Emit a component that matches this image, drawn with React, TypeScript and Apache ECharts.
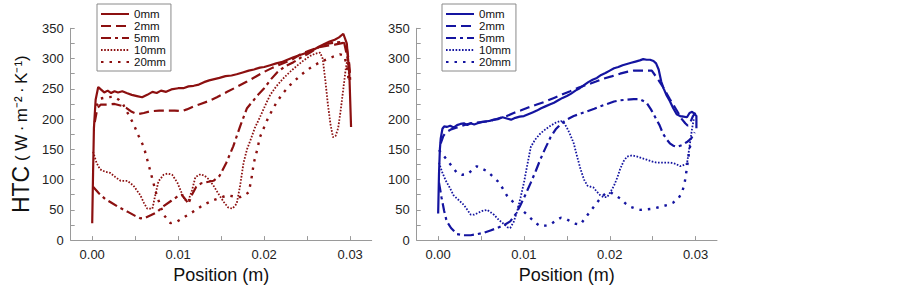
import React, { useEffect, useRef } from "react";
import * as echarts from "echarts";

// ---- data: [position (m), HTC] ----
const SERIES_NAMES = ["0mm", "2mm", "5mm", "10mm", "20mm"];
const X_TICKS = [0, 0.005, 0.01, 0.015, 0.02, 0.025, 0.03];
const X_LABELS = [0, 0.01, 0.02, 0.03];
const Y_TICKS = [0, 25, 50, 75, 100, 125, 150, 175, 200, 225, 250, 275, 300, 325, 350];

const left0 = [[0,28],[0.0001,110],[0.0002,185],[0.0004,232],[0.0007,253],[0.001,249],[0.0014,244],[0.0018,247],[0.0022,243],[0.0026,246],[0.003,244],[0.0035,246],[0.004,243],[0.0046,240],[0.0052,238],[0.0058,236],[0.0064,240],[0.007,245],[0.0075,243],[0.008,247],[0.0086,245],[0.0092,249],[0.01,251],[0.0106,251],[0.0112,254],[0.0118,255],[0.0124,257],[0.013,261],[0.0136,264],[0.0142,266],[0.0148,268],[0.0155,271],[0.0162,272],[0.0168,274],[0.0175,277],[0.0182,280],[0.0188,282],[0.0195,285],[0.02,286],[0.0207,289],[0.0214,292],[0.022,294],[0.0227,298],[0.0234,302],[0.024,305],[0.0246,308],[0.0252,311],[0.0258,315],[0.0264,320],[0.027,324],[0.0276,328],[0.0282,331],[0.0287,335],[0.0292,341],[0.0296,325],[0.0299,275],[0.0301,187]];
const left2 = [[0.0003,195],[0.0006,218],[0.001,224],[0.0018,224],[0.0026,225],[0.0034,222],[0.004,218],[0.0046,212],[0.0053,208],[0.006,210],[0.0068,213],[0.0078,214],[0.0088,214],[0.0096,214],[0.0104,213],[0.011,216],[0.0118,221],[0.0126,225],[0.0134,229],[0.0145,236],[0.0157,245],[0.0168,253],[0.018,262],[0.019,270],[0.02,278],[0.021,285],[0.022,291],[0.0232,298],[0.0242,307],[0.0252,313],[0.0262,318],[0.0272,321],[0.0282,323],[0.0292,326],[0.0296,318],[0.0299,290],[0.03,265]];
const left5 = [[0.0001,88],[0.0008,77],[0.0015,68],[0.0021,63],[0.003,55],[0.0041,47],[0.005,40],[0.0056,36],[0.0062,37],[0.0068,41],[0.0075,46],[0.0083,56],[0.0092,65],[0.0099,72],[0.0104,75],[0.0108,68],[0.0112,60],[0.0116,75],[0.0121,88],[0.0127,94],[0.0134,96],[0.0141,98],[0.0148,106],[0.0156,128],[0.0164,155],[0.0172,188],[0.018,218],[0.0187,230],[0.0194,242],[0.02,251],[0.0208,266],[0.0215,277],[0.0224,287],[0.0234,294],[0.0243,302],[0.025,307],[0.0258,314],[0.0265,320],[0.0272,324],[0.028,326],[0.0288,327],[0.0293,326],[0.0297,300],[0.03,272]];
const left10 = [[0.0001,146],[0.0005,128],[0.0009,117],[0.0015,113],[0.0021,111],[0.0027,104],[0.0033,98],[0.0041,98],[0.0048,90],[0.0052,82],[0.0056,74],[0.006,62],[0.0064,52],[0.007,52],[0.0073,72],[0.0077,97],[0.0083,108],[0.0088,110],[0.0093,108],[0.0099,95],[0.0104,78],[0.0108,66],[0.0112,66],[0.0116,82],[0.012,104],[0.0126,109],[0.0131,106],[0.0136,100],[0.0141,90],[0.0147,76],[0.0153,63],[0.0158,54],[0.0163,52],[0.0168,60],[0.0172,90],[0.0176,128],[0.018,150],[0.0184,165],[0.0189,185],[0.0195,203],[0.0201,222],[0.0207,240],[0.0214,254],[0.0222,267],[0.023,278],[0.0238,288],[0.0246,297],[0.0253,304],[0.0259,308],[0.0265,310],[0.0268,300],[0.0271,265],[0.0274,225],[0.0277,192],[0.028,170],[0.0283,172],[0.0286,185],[0.0289,215],[0.0292,250],[0.0295,285],[0.0297,300],[0.0299,265]];
const left20 = [[0.0005,222],[0.001,234],[0.0017,236],[0.0025,237],[0.0031,232],[0.0036,224],[0.0042,208],[0.0048,192],[0.0054,172],[0.006,154],[0.0067,117],[0.0075,74],[0.0083,42],[0.0091,28],[0.0099,31],[0.0107,38],[0.0114,44],[0.0122,51],[0.0129,58],[0.0141,66],[0.0149,70],[0.0157,74],[0.0165,72],[0.0172,71],[0.0178,75],[0.0182,79],[0.0185,100],[0.0188,128],[0.0192,150],[0.0195,170],[0.0203,197],[0.0209,214],[0.0215,229],[0.0222,243],[0.023,256],[0.0242,272],[0.025,281],[0.0257,288],[0.0265,294],[0.0273,299],[0.028,303],[0.0288,307],[0.0293,305],[0.0296,288],[0.0298,267]];

const right0 = [[0,44],[0.0001,110],[0.0002,150],[0.0003,168],[0.0005,184],[0.0007,188],[0.001,187],[0.0014,189],[0.0018,186],[0.0022,190],[0.0026,192],[0.003,193],[0.0034,190],[0.0038,193],[0.0042,191],[0.0046,193],[0.005,195],[0.0055,196],[0.006,197],[0.0065,199],[0.007,200],[0.0075,203],[0.008,201],[0.0085,199],[0.009,202],[0.0095,204],[0.01,205],[0.0105,208],[0.011,211],[0.0115,214],[0.012,218],[0.0125,221],[0.013,224],[0.0135,227],[0.014,231],[0.0145,235],[0.015,238],[0.0155,242],[0.016,247],[0.0165,251],[0.017,256],[0.0175,261],[0.018,265],[0.0185,268],[0.019,273],[0.0195,276],[0.02,280],[0.0205,284],[0.021,286],[0.0215,289],[0.022,291],[0.0225,293],[0.023,295],[0.0235,297],[0.0239,299],[0.0243,298],[0.0247,298],[0.0251,296],[0.0254,292],[0.0257,282],[0.026,262],[0.0263,250],[0.0266,240],[0.027,230],[0.0274,218],[0.0278,208],[0.0282,205],[0.0286,204],[0.029,203],[0.0293,210],[0.0296,212],[0.0299,208],[0.0301,205],[0.0301,185]];
const right2 = [[0.0003,160],[0.0006,172],[0.0009,178],[0.0015,183],[0.0022,186],[0.003,190],[0.0038,193],[0.005,195],[0.0061,197],[0.007,201],[0.008,205],[0.0088,210],[0.0096,214],[0.0105,219],[0.0115,224],[0.0125,229],[0.0135,235],[0.0145,241],[0.0154,246],[0.0164,252],[0.0174,257],[0.0184,262],[0.0193,267],[0.0203,271],[0.0212,275],[0.022,278],[0.0228,280],[0.0236,280],[0.0243,280],[0.0249,280],[0.0253,272],[0.0257,264],[0.0262,253],[0.0266,243],[0.027,233],[0.0274,224],[0.0279,212],[0.0284,200],[0.0288,193],[0.0291,189],[0.0294,195],[0.0297,205],[0.03,211]];
const right5 = [[0.0001,95],[0.0004,70],[0.0007,48],[0.001,31],[0.0015,20],[0.0022,10],[0.003,8],[0.0038,8],[0.0046,10],[0.0053,12],[0.0061,16],[0.0069,20],[0.0077,25],[0.0084,31],[0.009,42],[0.0096,58],[0.0102,76],[0.0108,95],[0.0114,115],[0.0119,133],[0.0125,152],[0.0131,170],[0.0137,183],[0.0143,192],[0.015,199],[0.0158,205],[0.0166,209],[0.0174,213],[0.0182,217],[0.0189,221],[0.0197,225],[0.0205,229],[0.0212,231],[0.022,232],[0.0228,233],[0.0235,233],[0.0243,227],[0.0248,216],[0.0253,203],[0.0258,190],[0.0262,176],[0.0266,167],[0.027,160],[0.0274,156],[0.0278,154],[0.0284,157],[0.029,162],[0.0295,168],[0.0299,178]];
const right10 = [[0.0001,128],[0.0005,111],[0.0009,98],[0.0013,88],[0.0018,74],[0.0024,66],[0.003,58],[0.0034,50],[0.0038,42],[0.0042,42],[0.0045,44],[0.0051,48],[0.0057,50],[0.0061,46],[0.0065,42],[0.0071,33],[0.0077,26],[0.0081,21],[0.0084,20],[0.0088,30],[0.0092,47],[0.0096,70],[0.01,95],[0.0104,125],[0.0108,154],[0.0113,166],[0.0119,176],[0.0125,183],[0.0131,189],[0.0137,194],[0.0143,197],[0.0147,193],[0.015,186],[0.0154,174],[0.0158,160],[0.0162,138],[0.0166,117],[0.017,100],[0.0174,90],[0.0178,88],[0.0181,87],[0.0185,80],[0.0189,74],[0.0193,71],[0.0197,71],[0.0201,80],[0.0205,90],[0.0209,104],[0.0212,117],[0.0216,130],[0.022,138],[0.0226,140],[0.0232,138],[0.0238,135],[0.0243,133],[0.0249,130],[0.0255,128],[0.0263,128],[0.0271,128],[0.0277,126],[0.0282,122],[0.0286,124],[0.029,126],[0.0292,145],[0.0294,165],[0.0296,185],[0.0298,200]];
const right20 = [[0.0001,149],[0.0006,140],[0.001,133],[0.0016,122],[0.0022,111],[0.0028,108],[0.0034,109],[0.004,116],[0.0045,122],[0.0051,118],[0.0057,114],[0.0063,106],[0.0069,98],[0.0075,86],[0.008,74],[0.0088,62],[0.0096,52],[0.0102,44],[0.0108,36],[0.0114,28],[0.0119,23],[0.0125,24],[0.0131,26],[0.0137,32],[0.0143,37],[0.0149,35],[0.0154,31],[0.016,27],[0.0166,26],[0.0171,36],[0.0177,47],[0.0183,58],[0.0189,69],[0.0195,77],[0.0201,79],[0.0206,74],[0.0212,69],[0.0218,61],[0.0224,55],[0.023,52],[0.0236,50],[0.0244,51],[0.0251,52],[0.0259,55],[0.0267,58],[0.0274,62],[0.028,69],[0.0284,78],[0.0287,92],[0.0289,110],[0.0291,130],[0.0293,150],[0.0295,165]];

const LEFT_DATA = [left0, left2, left5, left10, left20];
const RIGHT_DATA = [right0, right2, right5, right10, right20];

const RED = "#8c1010";
const BLUE = "#1414a0";
const FONT = 'Arial, "Liberation Sans", sans-serif';

const LINE_STYLES = [
  { type: "solid", width: 2.2 },
  { type: [10, 5], width: 2.2 },
  { type: [10, 4, 3, 4], width: 2.2 },
  { type: [1.6, 1.6], width: 1.8 },
  { type: [2.5, 6], width: 2.4 },
];

function makeXAxis(gridIndex: number) {
  return {
    gridIndex,
    type: "value",
    min: -0.0025,
    max: 0.0325,
    axisLine: { show: true, onZero: false, lineStyle: { color: "#9a9a9a", width: 1 } },
    axisTick: { show: true, inside: true, length: 4, customValues: X_TICKS, lineStyle: { color: "#9a9a9a" } },
    axisLabel: {
      customValues: X_LABELS,
      formatter: (v: number) => v.toFixed(2),
      fontSize: 13,
      color: "#222",
      margin: 8,
      fontFamily: FONT,
    },
    splitLine: { show: false },
    name: "Position (m)",
    nameLocation: "middle",
    nameGap: 23,
    nameTextStyle: { fontSize: 18, color: "#111", fontFamily: FONT },
  };
}

function makeYAxis(gridIndex: number, withName: boolean) {
  const ax: any = {
    gridIndex,
    type: "value",
    min: 0,
    max: 350,
    interval: 50,
    axisLine: { show: true, onZero: false, lineStyle: { color: "#9a9a9a", width: 1 } },
    axisTick: { show: true, inside: true, length: 4, customValues: Y_TICKS, lineStyle: { color: "#9a9a9a" } },
    axisLabel: { fontSize: 13, color: "#222", margin: 7, fontFamily: FONT },
    splitLine: { show: false },
  };
  if (withName) {
    ax.name = "{a|HTC}{b| ( W\u2009·\u2009m⁻²\u2009·\u2009K⁻¹)}";
    ax.nameLocation = "middle";
    ax.nameGap = 38;
    ax.nameTextStyle = {
      color: "#111",
      fontFamily: FONT,
      rich: {
        a: { fontSize: 23, fontFamily: FONT, color: "#111" },
        b: { fontSize: 17, fontFamily: FONT, color: "#111" },
      },
    };
  }
  return ax;
}

function makeLegend(left: number, prefix: string) {
  return {
    orient: "vertical",
    left,
    top: 4,
    data: SERIES_NAMES.map((n) => prefix + n),
    formatter: (n: string) => n.slice(1),
    itemWidth: 28,
    itemHeight: 14,
    itemGap: 0,
    padding: [4, 5, 3, 3],
    borderColor: "#8a8a8a",
    borderWidth: 1,
    selectedMode: false,
    itemStyle: { opacity: 0, borderWidth: 0 },
    textStyle: { fontSize: 11.5, color: "#111", fontFamily: FONT },
  };
}

export default function App() {
  const ref = useRef<HTMLDivElement>(null);
  useEffect(() => {
    if (!ref.current) return;
    const chart = echarts.init(ref.current, null, { renderer: "svg" });
    const series: any[] = [];
    SERIES_NAMES.forEach((n, i) => {
      series.push({
        name: "L" + n,
        type: "line",
        xAxisIndex: 0,
        yAxisIndex: 0,
        data: LEFT_DATA[i],
        symbol: "none",
        smooth: false,
        lineStyle: { color: RED, ...LINE_STYLES[i] },
        itemStyle: { color: RED },
      });
    });
    SERIES_NAMES.forEach((n, i) => {
      series.push({
        name: "R" + n,
        type: "line",
        xAxisIndex: 1,
        yAxisIndex: 1,
        data: RIGHT_DATA[i],
        symbol: "none",
        smooth: false,
        lineStyle: { color: BLUE, ...LINE_STYLES[i] },
        itemStyle: { color: BLUE },
      });
    });
    chart.setOption({
      animation: false,
      backgroundColor: "#ffffff",
      textStyle: { fontFamily: FONT },
      grid: [
        { left: 70.7, top: 28.3, width: 301, height: 217.7 },
        { left: 416.7, top: 28.3, width: 300.3, height: 217.7 },
      ],
      xAxis: [makeXAxis(0), makeXAxis(1)],
      yAxis: [makeYAxis(0, true), makeYAxis(1, false)],
      legend: [makeLegend(97, "L"), makeLegend(442, "R")],
      series,
    });
    return () => chart.dispose();
  }, []);
  return (
    <div
      ref={ref}
      style={{ position: "fixed", left: 0, top: 0, width: 903, height: 289, background: "#fff" }}
    />
  );
}
